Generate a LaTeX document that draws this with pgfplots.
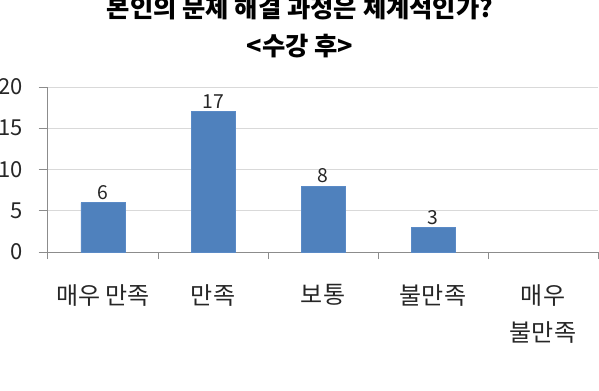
\documentclass[border=0pt]{standalone}
\usepackage{fontspec}
\setmainfont{Noto Sans CJK KR}
\usepackage{pgfplots}
\pgfplotsset{compat=1.18}
\definecolor{barblue}{HTML}{4F81BD}
\definecolor{bardraw}{HTML}{5A8AC6}
\definecolor{gridgray}{HTML}{D9D9D9}
\definecolor{axgray}{HTML}{8C8C8C}
\begin{document}
\begin{tikzpicture}
\begin{axis}[
  name=ax, at={(0,0)}, anchor=south west,
  scale only axis, width=412.5pt, height=123.75pt,
  xmin=-0.5, xmax=4.5, ymin=0, ymax=20,
  ybar, bar width=33pt,
  axis x line*=bottom, axis y line*=left,
  axis line style={axgray, line width=0.75pt},
  ytick={0,5,10,15,20},
  ymajorgrids, grid style={gridgray, line width=0.75pt},
  xtick={0,1,2,3,4},
  xticklabels={매우 만족, 만족, 보통, 불만족, {매우\\불만족}},
  major tick length=0pt,
  extra x ticks={-0.5,0.5,1.5,2.5,3.5,4.5},
  extra x tick labels={},
  extra x tick style={major tick length=5.25pt, tick align=outside, tick style={axgray, line width=0.75pt}, grid=none},
  extra y ticks={0,5,10,15,20},
  extra y tick labels={},
  extra y tick style={major tick length=7pt, tick align=outside, tick style={axgray, line width=0.75pt}, grid=none},
  /pgf/number format/assume math mode=true,
  yticklabel style={font=\fontsize{16.5}{16.5}\selectfont, text=black!85, anchor=east, inner sep=0pt, xshift=-18.5pt},
  xticklabel style={font=\fontsize{18}{28}\selectfont, text=black!85, align=center, anchor=north, inner sep=0pt, yshift=-24pt},
  nodes near coords,
  every node near coord/.append style={font=\fontsize{14.5}{14.5}\selectfont, anchor=south, inner sep=2pt, text=black!85},
  clip=false,
]
\addplot[fill=barblue, draw=bardraw] coordinates {(0,6) (1,17) (2,8) (3,3)};
\end{axis}
\node[font=\bfseries\fontsize{19}{19}\selectfont] at (189pt,183pt) {본인의 문제 해결 과정은 체계적인가?};
\node[font=\bfseries\fontsize{19}{19}\selectfont] at (189pt,154.5pt) {<수강 후>};
\pgfresetboundingbox
\useasboundingbox (-36pt,-103.5pt) rectangle ++(449.25pt,292.5pt);
\end{tikzpicture}
\end{document}
